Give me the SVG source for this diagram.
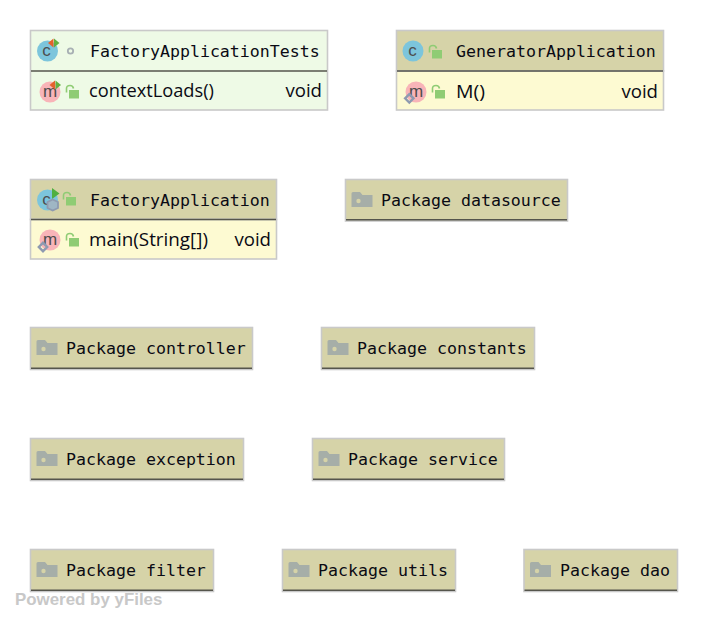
<svg xmlns="http://www.w3.org/2000/svg" xmlns:xlink="http://www.w3.org/1999/xlink" width="708" height="622" viewBox="0 0 708 622">
<style>
.bg{fill:#fff}
.box{stroke:#c9c9c9;stroke-width:1.6}
.head{fill:#d6d3a8}
.body{fill:#fdfad2}
.test{fill:#eefae6}
.div{stroke:#55554c;stroke-width:1.6;fill:none}
.mono{font-family:"DejaVu Sans Mono","Liberation Mono",monospace;font-size:16.6px;fill:#0a0a14}
.prop{font-family:"Open Sans","Noto Sans",sans-serif;font-size:18.6px;fill:#0a0a14}
.wm{font-family:"Liberation Sans",Arial,sans-serif;font-size:16.9px;font-weight:bold;fill:#c8c8c8}
.ic{font-family:"Liberation Sans",Arial,sans-serif;font-size:17px;fill:#4d4d4d;text-anchor:middle}
.lock{fill:#8fcc74}
.lockb{fill:none;stroke:#8fcc74;stroke-width:1.6}
</style>
<defs>
<g id="folder"><path d="M0 2.5Q0 1 1.5 1H8.5L11 4H21V16H0Z" fill="#a6aea8"/><circle cx="7" cy="10" r="2.2" fill="#d6d3a8"/></g>
<g id="lock"><rect x="0" y="4" width="10" height="8.500" class="lock"/><path d="M-2.500 6.500V2.500Q-2.500 -0.500 1 -0.500Q4 -0.500 4.500 2.500" class="lockb"/></g>
<g id="cb"><circle cx="0" cy="0" r="10.5" fill="#7cc5dc"/></g>
<g id="mb"><circle cx="0" cy="0" r="10.5" fill="#f8b4b8"/></g>
<g id="arrows"><path d="M-5.500 0L0 -4.500V4.500Z" fill="#e4622c"/><path d="M0.500 -4.500L6 0L0.500 4.500Z" fill="#62b040"/></g>
<g id="diamond"><path d="M-4.200 0L0 -4.200L4.200 0L0 4.200Z" fill="none" stroke="#8e9ab0" stroke-width="2.400"/></g>
</defs>
<rect class="bg" width="708" height="622"/>
<g id="connectors"/>
<g id="node-factory-application-tests">
<rect class="test box" x="30.5" y="30.5" width="297" height="79.5"/>
<line class="div" x1="31" y1="71" x2="327" y2="71"/>
<use xlink:href="#cb" x="47.500" y="51"/><text class="ic" x="46.500" y="56">c</text>
<use xlink:href="#arrows" x="53.500" y="43"/>
<circle cx="70.500" cy="51" r="2.700" fill="none" stroke="#a8b0b4" stroke-width="1.800"/>
<text class="mono" x="90" y="57">FactoryApplicationTests</text>
<use xlink:href="#mb" x="50" y="92"/><text class="ic" x="50" y="97">m</text>
<use xlink:href="#arrows" x="55" y="85"/>
<use xlink:href="#lock" x="69" y="86"/>
<text class="prop" x="89" y="97" textLength="125" lengthAdjust="spacingAndGlyphs">contextLoads()</text>
<text class="prop" x="322" y="97" text-anchor="end">void</text>
</g>
<g id="node-generator-application">
<rect class="head box" x="396.500" y="30.5" width="267" height="40.500"/>
<rect class="body box" x="396.500" y="71" width="267" height="39"/>
<line class="div" x1="397" y1="71" x2="663" y2="71"/>
<use xlink:href="#cb" x="413" y="51"/><text class="ic" x="412.500" y="56">c</text>
<use xlink:href="#lock" x="432" y="46"/>
<text class="mono" x="456" y="57">GeneratorApplication</text>
<use xlink:href="#mb" x="416" y="92"/><text class="ic" x="416" y="97">m</text>
<use xlink:href="#diamond" x="409.300" y="98.300"/>
<use xlink:href="#lock" x="435" y="86"/>
<text class="prop" x="456" y="98" textLength="29" lengthAdjust="spacingAndGlyphs">M()</text>
<text class="prop" x="658" y="98" text-anchor="end">void</text>
</g>
<g id="node-factory-application">
<rect class="head box" x="30.5" y="179.500" width="246" height="40"/>
<rect class="body box" x="30.5" y="219.500" width="246" height="39.500"/>
<line class="div" x1="31" y1="219.500" x2="276" y2="219.500"/>
<use xlink:href="#cb" x="47.500" y="200"/><text class="ic" x="46.500" y="205">c</text>
<path d="M52 188L59.500 193.500L52 199Z" fill="#4fb040"/>
<path d="M47.500 202L52.700 199.500L58 202V208L52.700 210.500L47.500 208Z" fill="#9fb6c4" stroke="#8e9ab0" stroke-width="1.800"/>
<use xlink:href="#lock" x="66" y="193"/>
<text class="mono" x="90" y="206">FactoryApplication</text>
<use xlink:href="#mb" x="50" y="240"/><text class="ic" x="50" y="245">m</text>
<use xlink:href="#diamond" x="43" y="247"/>
<use xlink:href="#lock" x="69" y="234"/>
<text class="prop" x="89" y="246" textLength="119" lengthAdjust="spacingAndGlyphs">main(String[])</text>
<text class="prop" x="271" y="246" text-anchor="end">void</text>
</g>
<g id="node-package-datasource">
<rect class="head box" x="345.500" y="179.500" width="222" height="41.500"/>
<line class="div" x1="346" y1="219.800" x2="567" y2="219.800"/>
<use xlink:href="#folder" x="351.500" y="191"/>
<text class="mono" x="381" y="206">Package datasource</text>
</g>
<g id="node-package-controller">
<rect class="head box" x="30.5" y="327.500" width="222" height="42"/>
<line class="div" x1="31" y1="368.300" x2="252" y2="368.300"/>
<use xlink:href="#folder" x="36.500" y="339"/>
<text class="mono" x="66" y="354">Package controller</text>
</g>
<g id="node-package-constants">
<rect class="head box" x="321.500" y="327.500" width="213" height="42"/>
<line class="div" x1="322" y1="368.300" x2="534" y2="368.300"/>
<use xlink:href="#folder" x="327.500" y="339"/>
<text class="mono" x="357" y="354">Package constants</text>
</g>
<g id="node-package-exception">
<rect class="head box" x="30.5" y="438.500" width="213" height="42"/>
<line class="div" x1="31" y1="479.300" x2="243" y2="479.300"/>
<use xlink:href="#folder" x="36.500" y="450"/>
<text class="mono" x="66" y="465">Package exception</text>
</g>
<g id="node-package-service">
<rect class="head box" x="312.500" y="438.500" width="192" height="42"/>
<line class="div" x1="313" y1="479.300" x2="504" y2="479.300"/>
<use xlink:href="#folder" x="318.500" y="450"/>
<text class="mono" x="348" y="465">Package service</text>
</g>
<g id="node-package-filter">
<rect class="head box" x="30.5" y="549.500" width="183" height="42"/>
<line class="div" x1="31" y1="590.300" x2="213" y2="590.300"/>
<use xlink:href="#folder" x="36.500" y="561"/>
<text class="mono" x="66" y="576">Package filter</text>
</g>
<g id="node-package-utils">
<rect class="head box" x="282.500" y="549.500" width="173" height="42"/>
<line class="div" x1="283" y1="590.300" x2="455" y2="590.300"/>
<use xlink:href="#folder" x="288.500" y="561"/>
<text class="mono" x="318" y="576">Package utils</text>
</g>
<g id="node-package-dao">
<rect class="head box" x="524" y="549.500" width="153.500" height="42"/>
<line class="div" x1="524.500" y1="590.300" x2="677" y2="590.300"/>
<use xlink:href="#folder" x="530" y="561"/>
<text class="mono" x="560" y="576">Package dao</text>
</g>
<text class="wm" x="15" y="605">Powered by yFiles</text>
</svg>
